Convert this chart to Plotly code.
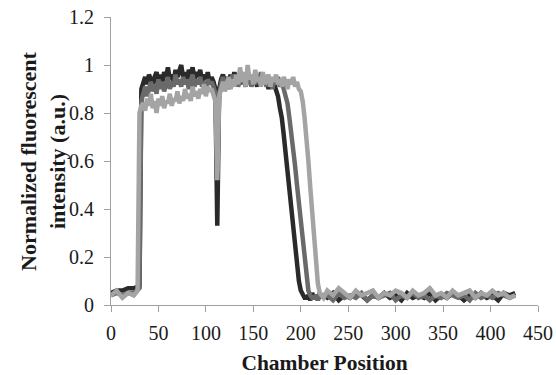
import plotly.graph_objects as go

# Chamber positions: coarse at the ends, fine across the plateau and edges
positions = (list(range(0, 30, 6)) + [28, 30, 32]
             + list(range(34, 226, 2))
             + list(range(228, 427, 6)))

dark = ([0.05, 0.06, 0.06, 0.07, 0.07, 0.08, 0.08, 0.90]
        + [0.93,0.95,0.92,0.96,0.94,0.91,0.95,0.97,0.93,0.96,
           0.92,0.97,0.95,0.99,0.94,0.96,0.93,0.98,0.95,0.97,
           1.00,0.95,0.97,0.93,0.98,0.96,0.99,0.94,0.97,0.95,
           0.98,0.93,0.96,0.94,0.97,0.92,0.95,0.93,0.90,
           0.33,
           0.90,0.94,0.96,0.93,0.95,0.92,0.96,0.94,0.97,0.93,
           0.95,0.92,0.96,0.94,0.91,0.95,0.93,0.96,0.92,0.94,
           0.91,0.95,0.93,0.96,0.92,0.94,0.90,0.93,0.91,0.92,
           0.90,0.87,0.82,
           0.78,0.71,0.63,0.55,0.47,0.39,0.31,0.23,0.16,0.10,0.06,0.04,0.03,0.03,
           0.04,0.02,0.05,0.03,0.04,0.02,0.05,0.03,0.04]
        + [0.03,0.05,0.02,0.04,0.03,0.05,0.04,0.02,0.04,0.03,
           0.05,0.03,0.04,0.02,0.05,0.03,0.04,0.03,0.05,0.02,
           0.04,0.03,0.05,0.04,0.02,0.04,0.03,0.05,0.03,0.04,
           0.02,0.05,0.04,0.05])

medium = ([0.04, 0.05, 0.04, 0.05, 0.05, 0.06, 0.07, 0.85]
          + [0.88,0.91,0.87,0.90,0.93,0.89,0.92,0.88,0.94,0.90,
             0.93,0.89,0.92,0.95,0.90,0.93,0.91,0.96,0.92,0.94,
             0.91,0.95,0.92,0.94,0.90,0.93,0.96,0.91,0.94,0.92,
             0.95,0.91,0.93,0.90,0.94,0.92,0.93,0.91,0.88,
             0.55,
             0.88,0.92,0.95,0.91,0.94,0.90,0.93,0.96,0.92,0.95,
             0.91,0.94,0.97,0.92,0.95,0.93,0.96,0.91,0.94,0.92,
             0.95,0.93,0.97,0.92,0.94,0.91,0.95,0.93,0.90,0.94,
             0.92,0.95,0.91,0.93,0.90,0.88,0.84,0.78,0.72,0.65,
             0.58,0.50,0.42,0.34,0.26,0.18,0.11,0.06,0.04,0.03,
             0.03,0.04,0.02,0.05,0.03,0.04]
          + [0.04,0.02,0.05,0.03,0.04,0.03,0.05,0.02,0.04,0.03,
             0.04,0.05,0.02,0.04,0.03,0.05,0.03,0.04,0.02,0.04,
             0.03,0.05,0.04,0.03,0.04,0.02,0.05,0.03,0.04,0.03,
             0.05,0.04,0.03,0.04])

light = ([0.04, 0.06, 0.03, 0.05, 0.04, 0.06, 0.80, 0.83]
         + [0.84,0.81,0.86,0.83,0.88,0.82,0.85,0.80,0.86,0.83,
            0.87,0.82,0.85,0.84,0.88,0.83,0.86,0.85,0.89,0.84,
            0.87,0.85,0.90,0.86,0.88,0.85,0.91,0.87,0.89,0.86,
            0.90,0.88,0.92,0.87,0.91,0.89,0.90,0.88,0.85,
            0.52,
            0.87,0.90,0.93,0.89,0.92,0.95,0.90,0.94,0.91,0.96,
            0.92,0.99,0.93,0.97,0.91,1.00,0.94,0.96,0.92,0.98,
            0.93,0.95,0.91,0.97,0.92,0.94,0.96,0.91,0.95,0.93,
            0.96,0.92,0.94,0.91,0.95,0.93,0.90,0.94,0.92,0.95,
            0.91,0.93,0.90,0.89,0.85,0.78,0.70,0.60,0.49,0.38,
            0.27,0.17,0.09,0.05,0.04,0.03]
         + [0.06,0.04,0.07,0.05,0.03,0.06,0.04,0.05,0.06,0.03,
            0.05,0.04,0.06,0.05,0.03,0.06,0.04,0.05,0.07,0.04,
            0.05,0.03,0.06,0.04,0.05,0.06,0.03,0.05,0.04,0.06,
            0.04,0.05,0.03,0.04])

series = [("Run 1", dark, "#2a2a2a"), ("Run 2", medium, "#6a6a6a"), ("Run 3", light, "#a4a4a4")]

x_ticks = [0, 50, 100, 150, 200, 250, 300, 350, 400, 450]
y_ticks = [0, 0.2, 0.4, 0.6, 0.8, 1.0, 1.2]
y_tick_text = ["0", "0.2", "0.4", "0.6", "0.8", "1", "1.2"]

FONT = "Liberation Serif"

fig = go.Figure()
for name, ys, col in series:
    fig.add_trace(go.Scatter(x=positions, y=ys, mode="lines", name=name,
                             line=dict(color=col, width=4.5), showlegend=False))

fig.update_layout(
    template="none",
    width=556, height=375,
    margin=dict(l=111, r=18, t=17, b=70, autoexpand=False),
    paper_bgcolor="white", plot_bgcolor="white",
    font=dict(family=FONT, color="#1a1a1a", size=20),
)
fig.update_xaxes(range=[0, 450], tickvals=x_ticks, showgrid=False, zeroline=False, automargin=False,
                 showline=True, linecolor="#a0a0a0", linewidth=1,
                 ticks="outside", ticklen=6, tickcolor="#a0a0a0", ticklabelstandoff=4,
                 tickfont=dict(family=FONT, size=20, color="#1a1a1a"),
                 title=dict(text="<b>Chamber Position</b>", font=dict(family=FONT, size=21.5), standoff=15))
fig.update_yaxes(range=[0, 1.2], tickvals=y_ticks, ticktext=y_tick_text, showgrid=False, zeroline=False,
                 automargin=False,
                 showline=True, linecolor="#a0a0a0", linewidth=1,
                 ticks="outside", ticklen=6, tickcolor="#a0a0a0", ticklabelstandoff=6,
                 tickfont=dict(family=FONT, size=20, color="#1a1a1a"))

fig.add_annotation(text="<b>Normalized fluorescent<br>intensity (a.u.)</b>",
                   xref="paper", yref="paper", x=-111 / 427 + 43 / 427, y=0.5,
                   xanchor="center", yanchor="middle", textangle=-90, showarrow=False,
                   font=dict(family=FONT, size=22, color="#1a1a1a"))

fig.write_html("out.html")
